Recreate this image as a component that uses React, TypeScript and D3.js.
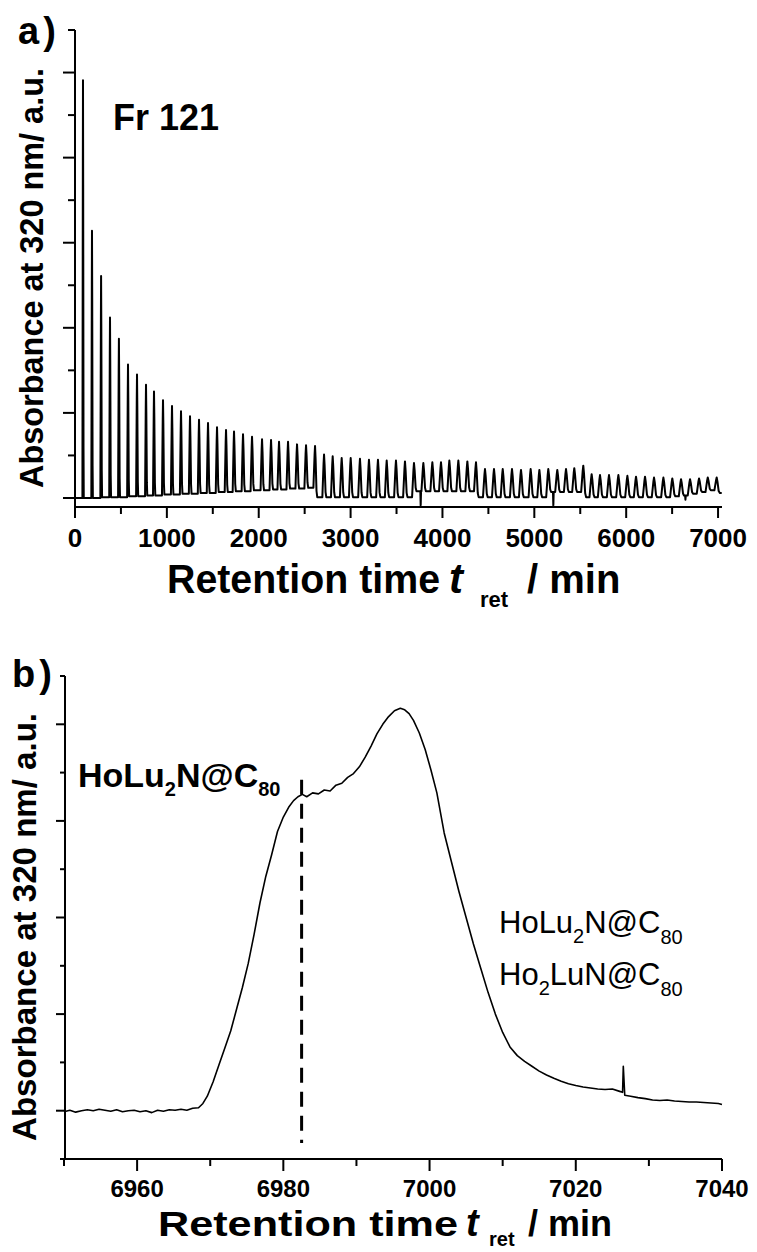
import React from "react";
import * as d3 from "d3";

// ---------- Panel a) recycling HPLC trace (Fr 121) ----------
const topXTicks = [0, 1000, 2000, 3000, 4000, 5000, 6000, 7000];
const topXMinor = [500, 1500, 2500, 3500, 4500, 5500, 6500];

// retention time of each recycling peak (min)
const peakTimes = [
  87, 185, 284, 381, 478, 577, 675, 773, 860, 958,
  1056, 1154, 1252, 1350, 1448, 1546, 1644, 1731, 1829, 1927,
  2036, 2134, 2221, 2319, 2417, 2515, 2613, 2711, 2805, 2903,
  3001, 3102, 3200, 3298, 3393, 3494, 3592, 3690, 3792, 3890,
  3984, 4075, 4173, 4271, 4365, 4463, 4561, 4656, 4757, 4855,
  4960, 5055, 5152, 5250, 5345, 5435, 5533, 5624, 5715, 5813,
  5915, 6013, 6107, 6205, 6303, 6405, 6502, 6597, 6695, 6793,
  6888, 6985,
];
// peak maximum (a.u.)
const peakHeights = [
  4.91, 3.14, 2.61, 2.12, 1.87, 1.57, 1.45, 1.33, 1.25, 1.15,
  1.08, 1.02, 0.96, 0.92, 0.88, 0.83, 0.8, 0.78, 0.75, 0.72,
  0.69, 0.68, 0.66, 0.66, 0.63, 0.62, 0.61, 0.51, 0.49, 0.47,
  0.47, 0.46, 0.45, 0.45, 0.44, 0.44, 0.43, 0.41, 0.41, 0.42,
  0.42, 0.44, 0.44, 0.43, 0.42, 0.34, 0.34, 0.34, 0.34, 0.33,
  0.34, 0.33, 0.34, 0.33, 0.34, 0.35, 0.38, 0.28, 0.27, 0.27,
  0.27, 0.26, 0.25, 0.25, 0.24, 0.24, 0.23, 0.22, 0.22, 0.23,
  0.24, 0.24,
];
// baseline level just before each peak (a.u.)
const valleyLevels = [
  0.0, 0.0, 0.0, 0.01, 0.01, 0.01, 0.02, 0.02, 0.03, 0.03,
  0.04, 0.04, 0.05, 0.05, 0.06, 0.06, 0.07, 0.07, 0.08, 0.08,
  0.09, 0.09, 0.1, 0.1, 0.11, 0.11, 0.12, 0.01, 0.01, 0.01,
  0.01, 0.01, 0.01, 0.01, 0.01, 0.01, 0.01, 0.01, 0.08, 0.08,
  0.08, 0.08, 0.08, 0.08, 0.08, 0.01, 0.01, 0.01, 0.01, 0.01,
  0.01, 0.01, 0.01, 0.07, 0.07, 0.07, 0.07, 0.01, 0.01, 0.01,
  0.01, 0.01, 0.01, 0.01, 0.01, 0.01, 0.01, 0.02, 0.03, 0.05,
  0.07, 0.09,
];
// base width of each peak (min)
const peakWidths = [
  14, 16, 18, 19, 20, 21, 22, 23, 24, 25,
  26, 27, 28, 29, 30, 31, 32, 33, 34, 35,
  36, 37, 38, 38, 39, 40, 40, 41, 41, 42,
  42, 43, 43, 44, 44, 45, 45, 46, 46, 47,
  47, 47, 48, 48, 48, 49, 49, 49, 50, 50,
  50, 50, 51, 51, 51, 51, 52, 52, 52, 52,
  53, 53, 53, 53, 54, 54, 54, 54, 55, 55,
  55, 55,
];
const topEndLevel = 0.06;
const dipTimes = [3763, 5207, 6645];
const dipLevels = [-0.09, -0.09, -0.02];

// ---------- Panel b) last cycle ----------
const botXTicks = [6960, 6980, 7000, 7020, 7040];
const botXMinor = [6950, 6970, 6990, 7010, 7030];
const botTimes = [
  6950.0, 6950.8, 6951.6, 6952.4, 6953.2, 6954.0, 6954.8, 6955.6, 6956.4, 6957.2,
  6958.0, 6958.8, 6959.6, 6960.4, 6961.2, 6962.0, 6962.8, 6963.6, 6964.4, 6965.2,
  6966.0, 6966.8, 6967.6, 6968.4, 6969.0, 6969.6, 6970.4, 6971.2, 6972.0, 6972.8,
  6973.6, 6974.4, 6975.2, 6976.0, 6976.8, 6977.6, 6978.4, 6979.2, 6980.0, 6980.8,
  6981.4, 6982.0, 6982.6, 6983.2, 6984.0, 6984.8, 6985.6, 6986.4, 6987.2, 6988.0,
  6988.8, 6989.6, 6990.4, 6991.2, 6992.0, 6992.8, 6993.6, 6994.4, 6995.2, 6996.0,
  6996.6, 6997.2, 6997.8, 6998.6, 6999.4, 7000.2, 7001.0, 7002.0, 7003.0, 7004.0,
  7005.0, 7006.0, 7007.0, 7008.0, 7009.0, 7010.0, 7011.0, 7012.0, 7013.0, 7014.0,
  7015.0, 7016.0, 7017.0, 7018.0, 7019.0, 7020.0, 7021.0, 7022.0, 7023.0, 7024.0,
  7025.0, 7026.0, 7026.4, 7026.5, 7026.7, 7027.5, 7028.5, 7029.5, 7030.5, 7031.5,
  7032.5, 7033.5, 7034.5, 7035.5, 7036.5, 7037.5, 7038.5, 7039.5, 7040.0,
];
const botValues = [
  -0.02, 0.01, -0.03, 0.0, 0.02, 0.0, 0.03, 0.01, -0.01, 0.02,
  -0.02, 0.0, 0.01, -0.02, 0.0, -0.04, 0.01, -0.01, 0.02, 0.01,
  0.03, 0.01, 0.05, 0.06, 0.15, 0.3, 0.6, 0.95, 1.3, 1.65,
  2.1, 2.55, 3.05, 3.65, 4.3, 4.85, 5.3, 5.78, 6.08, 6.3,
  6.42, 6.5, 6.55, 6.5, 6.58, 6.56, 6.64, 6.62, 6.74, 6.78,
  6.9, 6.98, 7.12, 7.32, 7.55, 7.8, 8.0, 8.16, 8.28, 8.33,
  8.3, 8.22, 8.08, 7.82, 7.48, 7.05, 6.58, 5.75, 5.15, 4.55,
  4.0, 3.45, 2.95, 2.45, 2.0, 1.62, 1.32, 1.14, 1.02, 0.92,
  0.82, 0.74, 0.67, 0.61, 0.56, 0.52, 0.49, 0.47, 0.45, 0.44,
  0.45, 0.4, 0.38, 0.92, 0.32, 0.3, 0.27, 0.25, 0.22, 0.21,
  0.22, 0.2, 0.19, 0.18, 0.18, 0.17, 0.16, 0.15, 0.13,
];
const markerTime = 6982.5;
const markerRange = [-0.67, 6.85];

const FONT = "'Liberation Sans', Arial, sans-serif";

function buildTopTrace(): [number, number][] {
  const pts: [number, number][] = [[0, valleyLevels[0]]];
  const n = peakTimes.length;
  for (let k = 0; k < n; k++) {
    const t = peakTimes[k];
    const h = peakHeights[k];
    const w = peakWidths[k];
    const v = valleyLevels[k];
    const vn = k + 1 < n ? valleyLevels[k + 1] : topEndLevel;
    pts.push([t - 0.45 * w, v]);
    pts.push([t - 0.12 * w, v + 0.8 * (h - v)]);
    pts.push([t, h]);
    pts.push([t + 0.15 * w, vn + 0.75 * (h - vn)]);
    pts.push([t + 0.4 * w, vn + 0.12 * (h - vn)]);
    pts.push([t + 0.6 * w, vn]);
  }
  dipTimes.forEach((dt, i) => {
    let k = peakTimes.findIndex((t) => t > dt);
    if (k < 0) k = n - 1;
    const lvl = valleyLevels[k];
    pts.push([dt - 4, lvl], [dt, dipLevels[i]], [dt + 4, lvl]);
  });
  pts.push([7040, topEndLevel]);
  pts.sort((a, b) => a[0] - b[0]);
  return pts;
}

export default function App() {
  const xTop = d3.scaleLinear().domain([0, 7043]).range([75, 722]);
  const yTop = d3.scaleLinear().domain([-0.106, 5.5]).range([507, 30]);
  const xBot = d3.scaleLinear().domain([6950, 7040]).range([64, 722]);
  const yBot = d3.scaleLinear().domain([-1, 9]).range([1159, 676]);

  const topLine = d3
    .line<[number, number]>()
    .x((d) => xTop(d[0]))
    .y((d) => yTop(d[1]));
  const topPath = topLine(buildTopTrace()) || "";

  const botLine = d3
    .line<number>()
    .x((_, i) => xBot(botTimes[i]))
    .y((d) => yBot(d));
  const botPath = botLine(botValues) || "";

  const topYTicks = d3.range(0, 5.51, 0.5);
  const botYTicks = d3.range(-1, 9.01, 1);

  const axisStyle = { stroke: "#000", strokeWidth: 2, fill: "none" };

  return (
    <svg
      width={757}
      height={1252}
      style={{ position: "absolute", left: 0, top: 0, background: "#fff" }}
      fontFamily={FONT}
    >
      <rect x={0} y={0} width={757} height={1252} fill="#fff" />
      {/* ----- Panel a ----- */}
      <text x={18} y={44} fontSize={38} fontWeight="bold" letterSpacing={4}>
        a)
      </text>
      <line x1={75} y1={30} x2={75} y2={508} {...axisStyle} />
      <line x1={74} y1={507} x2={722} y2={507} {...axisStyle} />
      {topYTicks.map((v) => {
        const major = Math.abs(v - Math.round(v)) < 1e-6;
        return (
          <line
            key={"ty" + v}
            x1={75}
            x2={major ? 63 : 68}
            y1={yTop(v)}
            y2={yTop(v)}
            {...axisStyle}
          />
        );
      })}
      {topXTicks.map((v) => (
        <g key={"tx" + v}>
          <line x1={xTop(v)} x2={xTop(v)} y1={507} y2={518} {...axisStyle} />
          <text
            x={xTop(v)}
            y={547}
            fontSize={26}
            fontWeight="bold"
            textAnchor="middle"
          >
            {v}
          </text>
        </g>
      ))}
      {topXMinor.map((v) => (
        <line key={"txm" + v} x1={xTop(v)} x2={xTop(v)} y1={507} y2={514} {...axisStyle} />
      ))}
      <path d={topPath} fill="none" stroke="#000" strokeWidth={2} strokeLinejoin="round" />
      <text x={113} y={130} fontSize={36} fontWeight="bold">
        Fr 121
      </text>
      <text
        transform="translate(43,278) rotate(-90)"
        fontSize={33}
        fontWeight="bold"
        textAnchor="middle"
        textLength={420}
        lengthAdjust="spacingAndGlyphs"
      >
        Absorbance at 320 nm/ a.u.
      </text>
      <text x={167} y={593} fontSize={40} fontWeight="bold" textLength={273} lengthAdjust="spacingAndGlyphs">
        Retention time
      </text>
      <text x={449} y={593} fontSize={42} fontWeight="bold" fontStyle="italic">
        t
      </text>
      <text x={480} y={607} fontSize={22} fontWeight="bold">
        ret
      </text>
      <text x={527} y={593} fontSize={40} fontWeight="bold">
        / min
      </text>

      {/* ----- Panel b ----- */}
      <text x={12} y={687} fontSize={38} fontWeight="bold" letterSpacing={4}>
        b)
      </text>
      <line x1={65} y1={676} x2={65} y2={1160} {...axisStyle} />
      <line x1={64} y1={1159} x2={722} y2={1159} {...axisStyle} />
      {botYTicks.map((v) => {
        const major = Math.abs(v % 2) < 1e-6;
        return (
          <line
            key={"by" + v}
            x1={65}
            x2={major ? 56 : 60}
            y1={yBot(v)}
            y2={yBot(v)}
            {...axisStyle}
          />
        );
      })}
      {botXTicks.map((v) => (
        <g key={"bx" + v}>
          <line x1={xBot(v)} x2={xBot(v)} y1={1159} y2={1171} {...axisStyle} />
          <text
            x={xBot(v)}
            y={1197}
            fontSize={24}
            fontWeight="bold"
            textAnchor="middle"
          >
            {v}
          </text>
        </g>
      ))}
      {botXMinor.map((v) => (
        <line key={"bxm" + v} x1={xBot(v)} x2={xBot(v)} y1={1159} y2={1166} {...axisStyle} />
      ))}
      <line
        x1={xBot(markerTime)}
        x2={xBot(markerTime)}
        y1={yBot(markerRange[1])}
        y2={yBot(markerRange[0])}
        stroke="#000"
        strokeWidth={3}
        strokeDasharray="15 9"
      />
      <path d={botPath} fill="none" stroke="#000" strokeWidth={1.6} strokeLinejoin="round" />
      <text x={78} y={787} fontSize={34} fontWeight="bold">
        HoLu
        <tspan fontSize={20} dy={9}>2</tspan>
        <tspan dy={-9}>N@C</tspan>
        <tspan fontSize={20} dy={9}>80</tspan>
      </text>
      <text x={499} y={933} fontSize={31}>
        HoLu
        <tspan fontSize={20} dy={10}>2</tspan>
        <tspan dy={-10}>N@C</tspan>
        <tspan fontSize={20} dy={11}>80</tspan>
      </text>
      <text x={499} y={985} fontSize={31}>
        Ho
        <tspan fontSize={20} dy={10}>2</tspan>
        <tspan dy={-10}>LuN@C</tspan>
        <tspan fontSize={20} dy={11}>80</tspan>
      </text>
      <text
        transform="translate(36,927) rotate(-90)"
        fontSize={33}
        fontWeight="bold"
        textAnchor="middle"
        textLength={428}
        lengthAdjust="spacingAndGlyphs"
      >
        Absorbance at 320 nm/ a.u.
      </text>
      <text x={158} y={1236} fontSize={35} fontWeight="bold" textLength={300} lengthAdjust="spacingAndGlyphs">
        Retention time
      </text>
      <text x={466} y={1236} fontSize={38} fontWeight="bold" fontStyle="italic">
        t
      </text>
      <text x={489} y={1246} fontSize={20} fontWeight="bold">
        ret
      </text>
      <text x={528} y={1236} fontSize={36} fontWeight="bold">
        / min
      </text>
    </svg>
  );
}
